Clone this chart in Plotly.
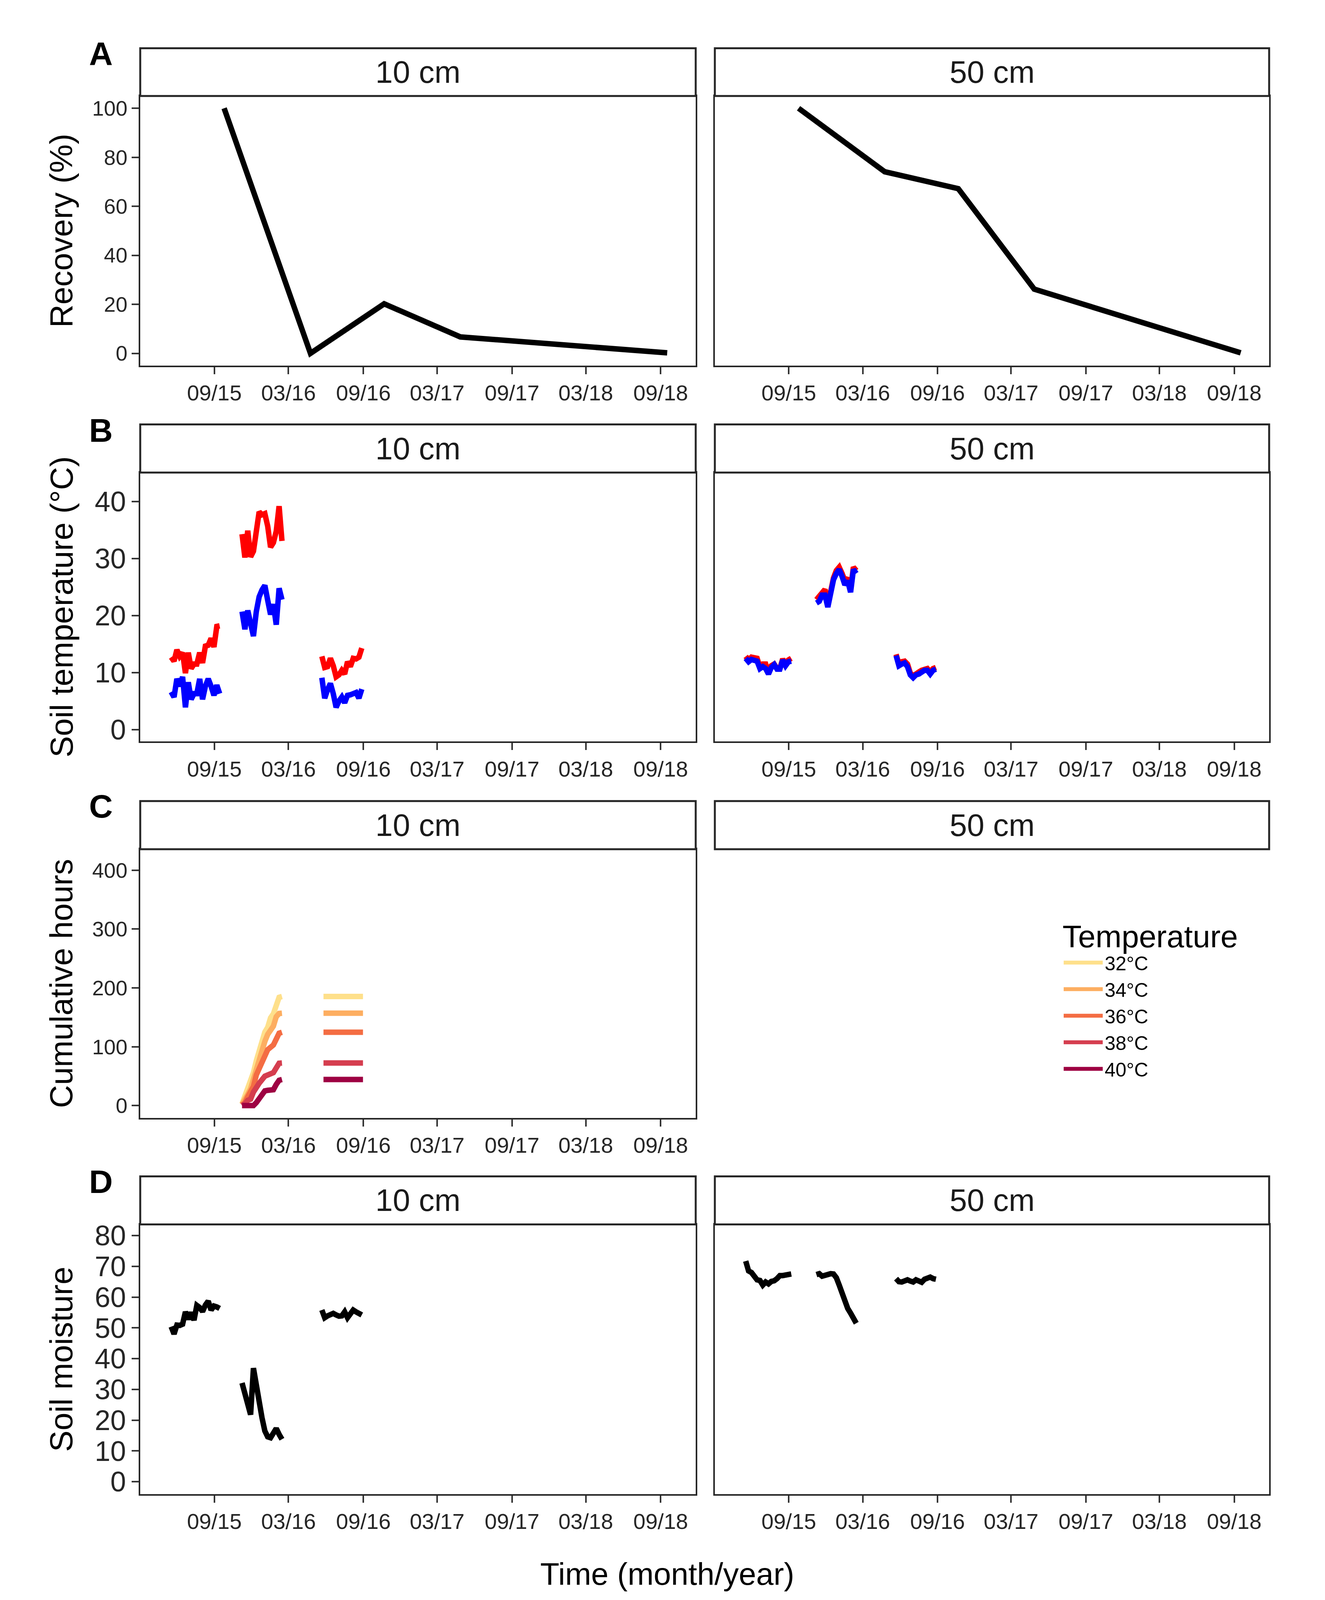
import plotly.graph_objects as go

W, H = 3392, 4896
FONT = "Liberation Sans"

# ---------------- data ----------------
tick_dates = ["2015-09-01", "2016-03-01", "2016-09-01", "2017-03-01",
              "2017-09-01", "2018-03-01", "2018-09-01"]
tick_text = ["09/15", "03/16", "09/16", "03/17", "09/17", "03/18", "09/18"]
depths = ["10 cm", "50 cm"]
x_range = ["2015-03-03", "2018-11-26"]

# A: recovery (%)
rec_dates = ["2015-09-25", "2016-04-24", "2016-10-22", "2017-04-27", "2018-09-17"]
rec_10 = [100, 0, 20.2, 6.7, 0.2]
rec_50 = [100, 74.1, 67.2, 26.2, 0.2]

# sampling dates of the three logger periods
wk1 = ["2015-05-18", "2015-05-25", "2015-06-01", "2015-06-08", "2015-06-15", "2015-06-22",
       "2015-06-29", "2015-07-06", "2015-07-13", "2015-07-20", "2015-07-27", "2015-08-03",
       "2015-08-10", "2015-08-17", "2015-08-24", "2015-08-31", "2015-09-07", "2015-09-14"]
wk2 = ["2015-11-08", "2015-11-15", "2015-11-22", "2015-11-29", "2015-12-06", "2015-12-13",
       "2015-12-20", "2015-12-27", "2016-01-03", "2016-01-10", "2016-01-17", "2016-01-24",
       "2016-01-31", "2016-02-07", "2016-02-14"]
wk3 = ["2016-05-22", "2016-05-29", "2016-06-05", "2016-06-12", "2016-06-19", "2016-06-26",
       "2016-07-03", "2016-07-10", "2016-07-17", "2016-07-24", "2016-07-31", "2016-08-07",
       "2016-08-14", "2016-08-21", "2016-08-28"]

# B: soil temperature (°C), max (red) and min (blue)
t10max_s1 = [12.7, 12.0, 14.0, 12.85, 13.5, 9.9, 13.5, 10.7, 11.5, 11.5, 13.5, 11.7, 14.65, 14.8, 16.0, 14.5, 18.1, 18.2]
t10min_s1 = [6.6, 5.7, 8.9, 7.6, 9.25, 3.9, 8.3, 5.3, 6.3, 6.3, 8.9, 5.3, 7.6, 8.9, 7.6, 6.0, 7.8, 6.3]
t10max_s2 = [34.3, 30.2, 34.9, 30.3, 31.3, 34.9, 38.2, 37.7, 37.9, 35.7, 32.0, 32.8, 34.8, 39.2, 33.1]
t10min_s2 = [20.7, 17.6, 20.9, 18.6, 16.4, 20.7, 23.3, 24.5, 25.3, 22.7, 20.2, 22.0, 18.4, 24.8, 22.8]
t10max_s3 = [12.85, 10.9, 11.05, 12.5, 11.2, 9.25, 9.6, 10.4, 9.75, 11.9, 11.05, 12.5, 12.4, 12.7, 14.3]
t10min_s3 = [9.1, 5.5, 7.0, 8.1, 6.3, 3.9, 5.0, 5.7, 4.7, 6.0, 6.1, 6.3, 6.5, 5.5, 7.1]

t50max_s1 = [12.85, 12.2, 12.7, 12.7, 12.5, 10.9, 11.5, 11.5, 9.9, 11.2, 11.5, 10.7, 10.7, 12.4, 11.4, 12.2, 12.5]
t50min_s1 = [12.5, 11.9, 12.3, 12.2, 12.0, 10.7, 11.05, 10.7, 9.75, 10.9, 11.4, 10.6, 10.6, 12.2, 11.2, 11.9, 12.0]
t50max_s2 = [22.8, 23.5, 24.1, 24.6, 21.8, 24.6, 26.6, 27.9, 28.5, 27.4, 26.1, 26.6, 24.5, 28.5, 27.9]
t50min_s2 = [22.2, 22.5, 23.6, 23.6, 21.5, 24.3, 26.3, 27.4, 28.1, 26.9, 25.4, 26.1, 24.1, 28.1, 27.4]
t50max_s3 = [13.2, 11.5, 11.9, 12.0, 11.5, 9.9, 9.4, 9.9, 10.1, 10.4, 10.6, 10.7, 10.1, 10.7, 10.9]
t50min_s3 = [13.0, 11.2, 11.5, 11.7, 11.05, 9.6, 9.1, 9.6, 9.75, 10.1, 10.4, 10.4, 9.75, 10.4, 10.6]

# C: cumulative hours above threshold (10 cm)
thresholds = ["32°C", "34°C", "36°C", "38°C", "40°C"]
thr_colors = ["#FEE08B", "#FDAE61", "#F46D43", "#D53E4F", "#9E0142"]
cum_rise = [
    [3, 15, 28.5, 42, 56, 76, 95, 111, 125, 133, 149, 156, 170, 184, 185.4],
    [2, 9, 19, 28.5, 46, 64, 80, 95, 109, 121, 127, 135, 151, 156.5, 157],
    [1, 5, 15, 23, 32.5, 52, 64, 76, 88, 95, 99, 103, 113, 123, 124.6],
    [0, 3, 9, 11, 23, 32.5, 38, 44, 50, 52, 54, 56, 64, 72, 72.4],
    [0, 0, 0, 0, 0, 5, 13, 19, 25, 26, 26, 27, 36, 43, 44.3],
]
flat_dates = ["2016-05-26", "2016-08-31"]
cum_flat = [
    [185.4, 185.4],
    [157, 157],
    [124.6, 124.6],
    [72.4, 72.4],
    [44.3, 44.3],
]

# D: soil moisture
m10_s1 = [50.4, 48.0, 50.9, 50.8, 51.2, 55.2, 52.8, 55.0, 52.5, 57.3, 56.6, 55.3, 57.4, 58.7, 55.8, 57.1, 56.8, 56.3]
m10_s2 = [32.1, 28.8, 25.6, 21.8, 36.9, 30.5, 25.9, 20.8, 16.5, 14.6, 14.3, 15.6, 17.3, 15.4, 13.8]
m10_s3 = [55.8, 53.3, 53.9, 54.3, 54.7, 54.2, 53.8, 53.9, 55.2, 53.3, 54.7, 55.8, 55.2, 54.7, 54.2]
m50_s1 = [71.7, 68.5, 68.0, 66.8, 65.6, 65.4, 63.9, 64.9, 64.3, 65.1, 65.3, 66.0, 67.0, 67.0, 67.3, 67.4, 67.5]
m50_s2 = [67.3, 67.6, 66.8, 67.1, 67.6, 67.6, 67.5, 66.3, 63.9, 60.9, 58.2, 56.3, 54.8, 53.5, 51.5]
m50_s3 = [66.0, 65.0, 64.9, 65.4, 65.6, 65.2, 64.9, 65.6, 65.4, 64.8, 65.8, 66.3, 66.5, 66.0, 65.8]

# ---------------- layout geometry (px of the 3392x4896 reference) ----------------
col_px = [(359, 1781), (1830, 3249)]
plot_px = [(282, 1111), (1440, 2267), (2598, 3424), (3752, 4581)]   # top, bottom
strip_px = [(135, 282), (1292, 1440), (2450, 2598), (3604, 3752)]
y_ranges = [[-5, 105], [-2.1, 45.1], [-20.7, 435.7], [-4, 83.6]]
y_ticks = [[0, 20, 40, 60, 80, 100], [0, 10, 20, 30, 40],
           [0, 100, 200, 300, 400], [0, 10, 20, 30, 40, 50, 60, 70, 80]]
y_tick_size = [54, 72, 54, 72]
y_titles = ["Recovery (%)", "Soil temperature (°C)", "Cumulative hours", "Soil moisture"]
letters = ["A", "B", "C", "D"]
letter_y = [153, 1310, 2466, 3620]


def px_x(v):
    return v / W


def px_y(v):
    return 1 - v / H


def join(*segs):
    out = []
    for i, s in enumerate(segs):
        if i:
            out.append(None)
        out.extend(s)
    return out


fig = go.Figure()
LW = 14


def add(xs, ys, ax, color, name=None, showlegend=False):
    n = "" if ax == 1 else str(ax)
    fig.add_trace(go.Scatter(x=xs, y=ys, mode="lines", xaxis="x" + n, yaxis="y" + n,
                             line=dict(color=color, width=LW), connectgaps=False,
                             name=name, showlegend=showlegend, hoverinfo="x+y"))


# A
add(rec_dates, rec_10, 1, "black")
add(rec_dates, rec_50, 2, "black")
# B
add(join(wk1, wk2, wk3), join(t10max_s1, t10max_s2, t10max_s3), 3, "#FF0000")
add(join(wk1, wk2, wk3), join(t10min_s1, t10min_s2, t10min_s3), 3, "#0000FF")
add(join(wk1[:17], wk2, wk3), join(t50max_s1, t50max_s2, t50max_s3), 4, "#FF0000")
add(join(wk1[:17], wk2, wk3), join(t50min_s1, t50min_s2, t50min_s3), 4, "#0000FF")
# C
for lab, col, rise, flat in zip(thresholds, thr_colors, cum_rise, cum_flat):
    add(join(wk2, flat_dates), join(rise, flat), 5, col, name=lab, showlegend=True)
# D
add(join(wk1, wk2, wk3), join(m10_s1, m10_s2, m10_s3), 7, "black")
add(join(wk1[:17], wk2, wk3), join(m50_s1, m50_s2, m50_s3), 8, "black")

layout = {}
shapes = []
annotations = []
for r in range(4):
    for c in range(2):
        ax = r * 2 + c + 1
        n = "" if ax == 1 else str(ax)
        xd = [px_x(col_px[c][0]), px_x(col_px[c][1])]
        yd = [px_y(plot_px[r][1]), px_y(plot_px[r][0])]
        layout["xaxis" + n] = dict(
            domain=xd, anchor="y" + n, type="date", range=x_range,
            tickmode="array", tickvals=tick_dates, ticktext=tick_text,
            showline=True, mirror=True, linecolor="#262626", linewidth=4,
            ticks="outside", ticklen=18, tickwidth=4, tickcolor="#333333",
            showgrid=False, zeroline=False,
            tickfont=dict(family=FONT, size=56, color="#262626"))
        layout["yaxis" + n] = dict(
            domain=yd, anchor="x" + n, range=y_ranges[r],
            tickmode="array", tickvals=y_ticks[r],
            showline=True, mirror=True, linecolor="#262626", linewidth=4,
            ticks="outside" if c == 0 else "", ticklen=18, tickwidth=4,
            tickcolor="#333333", showticklabels=(c == 0),
            showgrid=False, zeroline=False,
            tickfont=dict(family=FONT, size=y_tick_size[r], color="#262626"))
        shapes.append(dict(type="rect", xref="paper", yref="paper",
                           x0=xd[0], x1=xd[1], y0=px_y(strip_px[r][1]), y1=px_y(strip_px[r][0]),
                           line=dict(color="#262626", width=5), fillcolor="white", layer="above"))
        annotations.append(dict(xref="paper", yref="paper", x=(xd[0] + xd[1]) / 2,
                                y=px_y((strip_px[r][0] + strip_px[r][1]) / 2),
                                text=depths[c], showarrow=False,
                                font=dict(family=FONT, size=80, color="#1A1A1A"),
                                xanchor="center", yanchor="middle"))
    annotations.append(dict(xref="paper", yref="paper", x=px_x(157),
                            y=px_y((plot_px[r][0] + plot_px[r][1]) / 2),
                            text=y_titles[r], textangle=-90, showarrow=False,
                            font=dict(family=FONT, size=82, color="black"),
                            xanchor="center", yanchor="middle"))
    annotations.append(dict(xref="paper", yref="paper", x=px_x(258), y=px_y(letter_y[r]),
                            text="<b>" + letters[r] + "</b>", showarrow=False,
                            font=dict(family=FONT, size=84, color="black"),
                            xanchor="center", yanchor="middle"))

annotations.append(dict(xref="paper", yref="paper", x=px_x(1708), y=px_y(4827),
                        text="Time (month/year)", showarrow=False,
                        font=dict(family=FONT, size=80, color="black"),
                        xanchor="center", yanchor="middle"))

fig.update_layout(
    width=W, height=H, autosize=False,
    margin=dict(l=0, r=0, t=0, b=0, pad=0),
    paper_bgcolor="white", plot_bgcolor="white",
    shapes=shapes, annotations=annotations,
    font=dict(family=FONT, color="black"),
    legend=dict(x=px_x(2718), y=px_y(2775), xanchor="left", yanchor="top",
                bgcolor="rgba(0,0,0,0)", borderwidth=0,
                title=dict(text="Temperature", font=dict(family=FONT, size=80, color="black")),
                font=dict(family=FONT, size=50, color="black"),
                tracegroupgap=0, itemwidth=100),
    **layout,
)

# fit the figure to the browser viewport so that nothing is cut off
post = (
    "document.documentElement.style.margin='0px';"
    "document.body.style.margin='0px';"
    "document.body.style.overflow='hidden';"
    "var gd=document.getElementById('{plot_id}');"
    "Plotly.relayout(gd,{width:window.innerWidth,height:window.innerHeight});"
)

fig.write_html("out.html", post_script=post, config={"displayModeBar": False})
